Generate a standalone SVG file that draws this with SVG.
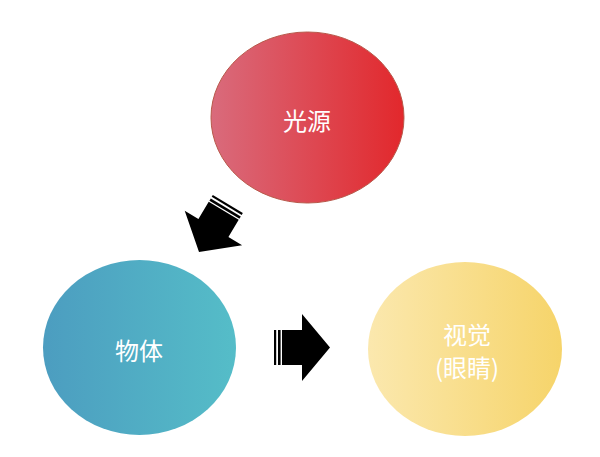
<svg xmlns="http://www.w3.org/2000/svg" width="600" height="457" viewBox="0 0 600 457">
<defs>
<linearGradient id="gRed" x1="0" y1="0" x2="1" y2="0">
<stop offset="0" stop-color="#d96b7c"/>
<stop offset="1" stop-color="#e2282c"/>
</linearGradient>
<linearGradient id="gTeal" x1="0" y1="0" x2="1" y2="0">
<stop offset="0" stop-color="#4c9dc0"/>
<stop offset="1" stop-color="#55bdc8"/>
</linearGradient>
<linearGradient id="gYel" x1="0" y1="0" x2="1" y2="0">
<stop offset="0" stop-color="#fbe8ae"/>
<stop offset="1" stop-color="#f6d46a"/>
</linearGradient>
<g id="arrow">
<rect x="-56" y="-17.5" width="2.2" height="35"/>
<rect x="-52" y="-17.5" width="2.6" height="35"/>
<path d="M-48,-17.5 L-28,-17.5 L-28,-33.5 L0,0 L-28,33.5 L-28,17.5 L-48,17.5 Z"/>
</g>
</defs>
<style>
.lbl{font-family:"Noto Sans CJK SC","Noto Sans",sans-serif;font-size:24px;fill:#ffffff;text-anchor:middle;dominant-baseline:central}
</style>
<rect width="600" height="457" fill="#ffffff"/>
<g id="connectors" fill="#000000">
<use href="#arrow" transform="translate(199,252) rotate(121)"/>
<use href="#arrow" transform="translate(330,347.5)"/>
</g>
<g id="node-light">
<ellipse cx="307.5" cy="117.5" rx="96.5" ry="85.5" fill="url(#gRed)" stroke="#b8584a" stroke-width="1"/>
<text class="lbl" x="307" y="119">光源</text>
</g>
<g id="node-object">
<ellipse cx="139.5" cy="347.5" rx="96.5" ry="87.5" fill="url(#gTeal)"/>
<text class="lbl" x="139" y="349">物体</text>
</g>
<g id="node-vision">
<ellipse cx="465" cy="349" rx="97" ry="87" fill="url(#gYel)"/>
<text class="lbl" x="467" y="333">视觉</text>
<text class="lbl" x="467" y="366">(眼睛)</text>
</g>
</svg>
